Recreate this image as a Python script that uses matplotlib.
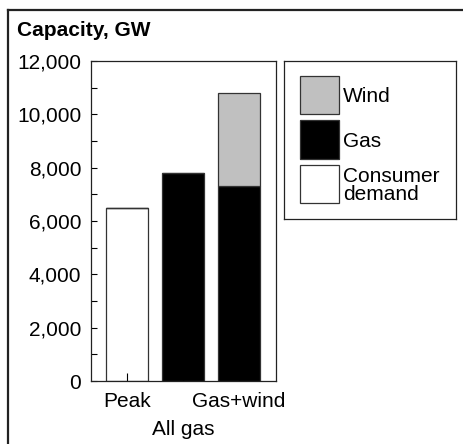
import matplotlib.pyplot as plt
from matplotlib.lines import Line2D
from matplotlib.patches import Rectangle

plt.rcParams['font.family'] = ['Liberation Sans', 'DejaVu Sans']

# ---- data ----
categories = ['Peak', 'All gas', 'Gas+wind']
demand = [6500, 0, 0]
gas = [0, 7800, 7300]
wind = [0, 0, 3500]
yticks = [0, 2000, 4000, 6000, 8000, 10000, 12000]

legend_labels = ['Wind', 'Gas', 'Consumer\ndemand']
legend_colors = ['#c0c0c0', '#000000', '#ffffff']

W, H = 463, 444
fig = plt.figure(figsize=(W / 100, H / 100), dpi=100)

# frame lines (top and left only, like the cropped original)
fig.add_artist(Line2D([8 / W, 1], [1 - 10 / H, 1 - 10 / H], color='#222222', lw=1.6))
fig.add_artist(Line2D([8 / W, 8 / W], [0, 1 - 10 / H], color='#222222', lw=1.6))

fig.text(17 / W, 1 - 36 / H, 'Capacity, GW', fontsize=15, fontweight='bold',
         va='baseline', ha='left')

ax = fig.add_axes([91 / W, 63 / H, 185 / W, 320 / H])
x = range(len(categories))
edge = '#333333'
ax.bar(x, demand, width=0.75, color='white', edgecolor=edge, lw=0.9)
ax.bar(x, gas, width=0.75, bottom=demand, color='black', edgecolor=edge, lw=0.9)
bottom2 = [d + g for d, g in zip(demand, gas)]
ax.bar(x, wind, width=0.75, bottom=bottom2, color='#c0c0c0', edgecolor=edge, lw=0.9)

ax.set_xlim(-0.643, 2.66)
ax.set_ylim(0, 12000)
ax.set_yticks(yticks)
ax.set_yticklabels([f'{v:,}' for v in yticks])
ax.set_yticks(range(1000, 12000, 2000), minor=True)
ax.set_xticks(list(x))
ax.set_xticklabels(categories)
ax.tick_params(axis='y', which='both', direction='in', length=4.5, width=0.8,
               labelsize=15, pad=7)
ax.tick_params(axis='x', direction='in', length=5.5, width=0.8, labelsize=15, pad=8)
# stagger the middle category label onto a second row
ax.xaxis.get_major_ticks()[1].set_pad(28)
for s in ax.spines.values():
    s.set_linewidth(0.9)
    s.set_color('#222222')

# ---- legend box ----
lax = fig.add_axes([284 / W, (H - 219) / H, 172 / W, 158 / H])
lax.set_xticks([])
lax.set_yticks([])
for s in lax.spines.values():
    s.set_linewidth(0.9)
    s.set_color('#222222')
rows = [(0.665, 0.905), (0.382, 0.627), (0.101, 0.344)]
for (y0, y1), lab, col in zip(rows, legend_labels, legend_colors):
    lax.add_patch(Rectangle((0.093, y0), 0.225, y1 - y0, facecolor=col,
                            edgecolor=edge, lw=0.9, transform=lax.transAxes))
    lax.text(0.341, (y0 + y1) / 2 - 0.012, lab, fontsize=15, va='center', ha='left',
             linespacing=0.95, transform=lax.transAxes)

fig.savefig('out.png', dpi=100)
